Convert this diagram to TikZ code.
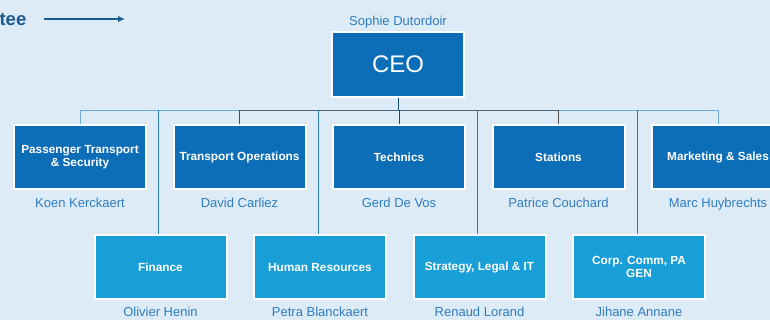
\documentclass[tikz,border=0pt]{standalone}
\usepackage{fontspec}
\setmainfont{Liberation Sans}
\usetikzlibrary{positioning}
\usetikzlibrary{arrows.meta}

\definecolor{bgblue}{HTML}{DCEBF5}
\definecolor{headblue}{HTML}{0D6EB8}
\definecolor{staffblue}{HTML}{189FD8}
\definecolor{nameblue}{HTML}{2F7DC0}
\definecolor{busdark}{HTML}{48627A}
\definecolor{buslight}{HTML}{6AAAD8}
\definecolor{linkblue}{HTML}{2A78B8}
\definecolor{titleblue}{HTML}{1A5A8F}

\tikzset{
  unit/.style={draw=white, line width=2pt, minimum width=132pt, minimum height=64pt,
    text=white, align=center, inner sep=1pt,
    font=\bfseries\fontsize{11.8}{12.8}\selectfont},
  lineunit/.style={unit, fill=headblue},
  staffunit/.style={unit, fill=staffblue},
  who/.style={text=nameblue, inner sep=0pt, font=\fontsize{13}{14}\selectfont},
  wire/.style={line width=0.9pt}
}

\begin{document}
\begin{tikzpicture}[x=1pt,y=-1pt,node distance=25.5pt]
    \useasboundingbox (0,0) rectangle (770,320);
    \clip (0,0) rectangle (770,320);
    \fill[bgblue] (0,0) rectangle (770,320);

    % Place nodes
    \node [anchor=base east,text=titleblue,inner sep=0pt,font=\bfseries\fontsize{18.5}{20}\selectfont] (ttl) at (26.5,25.5) {tee};
    \coordinate (arrs) at (44,19);
    \coordinate (arre) at (125,19);

    \node [lineunit,minimum height=65pt,font=\fontsize{24}{26}\selectfont] (ceo) at (398,64.5) {CEO};
    \node [who,above=2.5pt of ceo] (ceoname) {Sophie Dutordoir};

    \node [lineunit] (ptsec) at (80,157.5) {Passenger Transport\\\& Security};
    \node [lineunit,right=of ptsec] (ops) {Transport Operations};
    \node [lineunit,right=of ops] (tech) {Technics};
    \node [lineunit,right=of tech] (stat) {Stations};
    \node [lineunit,right=of stat] (mkt) {Marketing \& Sales};

    \node [staffunit] (fin) at (160.5,267) {Finance};
    \node [staffunit,right=of fin] (hr) {Human Resources};
    \node [staffunit,right=of hr] (strat) {Strategy, Legal \& IT};
    \node [staffunit,right=of strat] (comm) {Corp. Comm, PA\\GEN};

    \node [who,below=7pt of ptsec] {Koen Kerckaert};
    \node [who,below=7pt of ops] {David Carliez};
    \node [who,below=7pt of tech] {Gerd De Vos};
    \node [who,below=7pt of stat] {Patrice Couchard};
    \node [who,below=7pt of mkt] {Marc Huybrechts};

    \node [who,below=6.5pt of fin] {Olivier Henin};
    \node [who,below=6.5pt of hr] {Petra Blanckaert};
    \node [who,below=6.5pt of strat] {Renaud Lorand};
    \node [who,below=6.5pt of comm] {Jihane Annane};

    % Lines
    \draw [line width=1.3pt,titleblue,-{Latex[length=7pt,width=6.5pt]}] (arrs) -- (arre);

    \path (ceo.south) ++(0,12) coordinate (hub);
    \draw [wire,headblue!70!black] (ceo.south) -- (hub);
    \draw [wire,buslight] (ptsec.north |- hub) -- (ops.north |- hub);
    \draw [wire,busdark] (ops.north |- hub) -- (stat.north |- hub);
    \draw [wire,buslight] (stat.north |- hub) -- (mkt.north |- hub);

    \draw [wire,buslight] (ptsec.north |- hub) -- (ptsec.north);
    \draw [wire,black!70] (ops.north |- hub) -- (ops.north);
    \draw [wire,headblue!70!black] (tech.north |- hub) -- (tech.north);
    \draw [wire,black!70] (stat.north |- hub) -- (stat.north);
    \draw [wire,buslight] (mkt.north |- hub) -- (mkt.north);

    \foreach \n in {fin,hr,strat,comm}
      \draw [wire,linkblue] ([xshift=-2pt]\n.north |- hub) -- ([xshift=-2pt]\n.north);
\end{tikzpicture}
\end{document}
